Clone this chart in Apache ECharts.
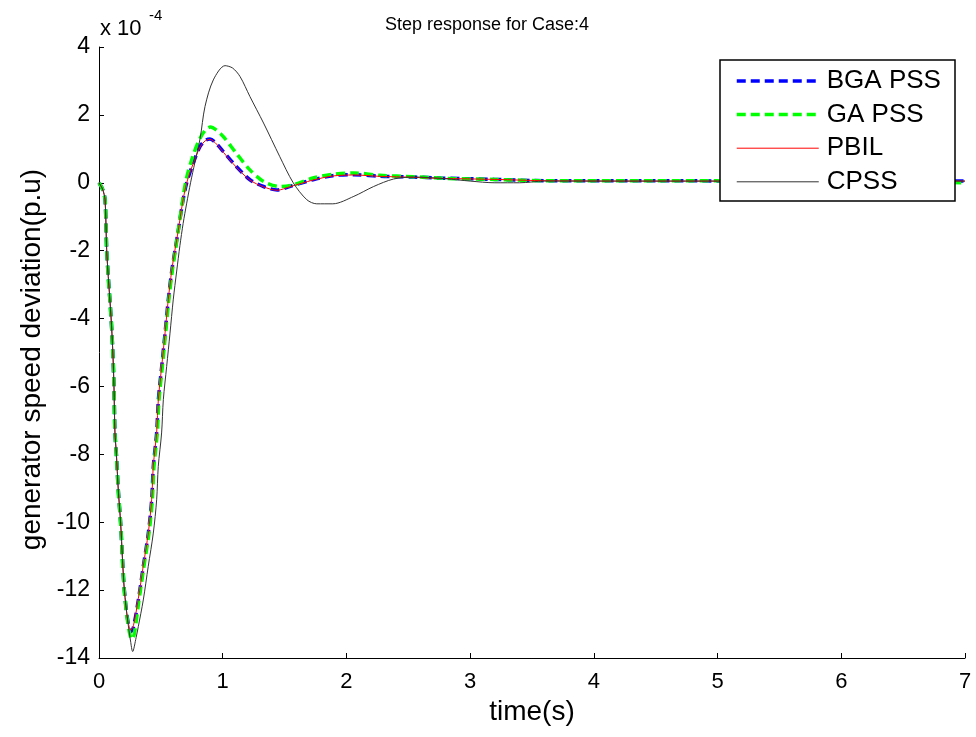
<!DOCTYPE html>
<html>
<head>
<meta charset="utf-8">
<script src="https://cdn.jsdelivr.net/npm/echarts@6/dist/echarts.min.js"></script>
<style>
html,body{margin:0;padding:0;background:#fff;}
#chart{width:976px;height:737px;}
</style>
</head>
<body>
<div id="chart"></div>
<script>
// ---- data (values in units of 1e-4 p.u.) ----
const xTicks = [0, 1, 2, 3, 4, 5, 6, 7];
const yTicks = [-14, -12, -10, -8, -6, -4, -2, 0, 2, 4];

const bgaT = [0, 0.03, 0.049, 0.062, 0.075, 0.097, 0.111, 0.121, 0.129, 0.14, 0.156, 0.175, 0.19, 0.205, 0.232, 0.26, 0.278, 0.318, 0.358, 0.399, 0.426, 0.439, 0.466, 0.48, 0.507, 0.534, 0.56, 0.588, 0.614, 0.641, 0.675, 0.709, 0.762, 0.817, 0.86, 0.897, 0.95, 1.005, 1.11, 1.22, 1.33, 1.44, 1.54, 1.73, 1.89, 2.06, 2.27, 2.54, 2.76, 3.2, 3.62, 4.5, 5.5, 6.5, 7.0];
const bgaY = [0, -0.2, -0.5, -1.97, -2.76, -3.94, -4.92, -6.0, -7.37, -7.96, -9.05, -10.03, -11.1, -12.0, -12.88, -13.22, -13.1, -12.29, -11.3, -10.32, -9.34, -8.36, -7.37, -6.39, -5.41, -4.43, -3.45, -2.6, -2.0, -1.4, -0.6, 0, 0.58, 1.07, 1.25, 1.29, 1.15, 0.92, 0.48, 0.09, -0.11, -0.21, -0.11, 0.09, 0.21, 0.24, 0.19, 0.17, 0.14, 0.1, 0.06, 0.06, 0.05, 0.05, 0.05];

const gaT = [0, 0.03, 0.049, 0.062, 0.075, 0.097, 0.111, 0.121, 0.129, 0.14, 0.156, 0.175, 0.19, 0.205, 0.232, 0.265, 0.285, 0.323, 0.363, 0.404, 0.431, 0.444, 0.471, 0.485, 0.512, 0.538, 0.564, 0.592, 0.617, 0.645, 0.675, 0.705, 0.76, 0.815, 0.86, 0.9, 0.95, 1.005, 1.11, 1.22, 1.33, 1.46, 1.57, 1.73, 1.89, 2.06, 2.27, 2.54, 2.8, 3.2, 3.62, 4.5, 5.5, 6.5, 7.0];
const gaY = [0, -0.2, -0.5, -1.97, -2.8, -3.94, -4.95, -6.0, -7.4, -8.0, -9.1, -10.05, -11.15, -12.05, -12.95, -13.45, -13.3, -12.3, -11.3, -10.32, -9.34, -8.36, -7.37, -6.39, -5.41, -4.43, -3.45, -2.6, -2.0, -1.3, -0.55, 0.1, 0.8, 1.3, 1.55, 1.64, 1.55, 1.36, 0.87, 0.38, 0.04, -0.11, -0.06, 0.14, 0.25, 0.29, 0.22, 0.18, 0.13, 0.1, 0.06, 0.06, 0.05, 0.03, 0.0];

const pbilT = [0, 0.03, 0.049, 0.062, 0.075, 0.097, 0.111, 0.121, 0.129, 0.14, 0.156, 0.175, 0.19, 0.205, 0.232, 0.258, 0.278, 0.318, 0.358, 0.399, 0.426, 0.439, 0.466, 0.48, 0.507, 0.534, 0.56, 0.588, 0.614, 0.641, 0.675, 0.709, 0.762, 0.817, 0.86, 0.897, 0.95, 1.005, 1.11, 1.22, 1.33, 1.44, 1.54, 1.73, 1.89, 2.06, 2.27, 2.54, 2.76, 3.2, 3.62, 4.5, 5.5, 6.5, 7.0];
const pbilY = [0, -0.2, -0.5, -1.97, -2.76, -3.94, -4.92, -6.0, -7.37, -7.96, -9.05, -10.03, -11.1, -12.0, -12.88, -13.18, -13.05, -12.25, -11.28, -10.3, -9.32, -8.34, -7.35, -6.37, -5.4, -4.42, -3.44, -2.58, -1.98, -1.4, -0.6, 0, 0.57, 1.05, 1.24, 1.28, 1.14, 0.9, 0.46, 0.08, -0.12, -0.22, -0.12, 0.08, 0.2, 0.23, 0.19, 0.16, 0.13, 0.1, 0.06, 0.05, 0.05, 0.05, 0.05];

const cpssT = [0, 0.03, 0.049, 0.062, 0.075, 0.097, 0.111, 0.121, 0.129, 0.14, 0.156, 0.175, 0.19, 0.205, 0.232, 0.255, 0.272, 0.3, 0.318, 0.358, 0.398, 0.439, 0.466, 0.479, 0.506, 0.52, 0.547, 0.574, 0.6, 0.628, 0.654, 0.68, 0.709, 0.74, 0.775, 0.817, 0.857, 0.924, 1.019, 1.08, 1.14, 1.22, 1.33, 1.46, 1.57, 1.68, 1.76, 1.89, 2.06, 2.22, 2.38, 2.54, 2.8, 3.0, 3.2, 3.4, 3.6, 4.5, 5.5, 6.5, 7.0];
const cpssY = [0, -0.2, -0.5, -1.97, -2.76, -3.94, -4.92, -6.0, -7.37, -7.96, -9.05, -10.03, -11.1, -12.0, -12.9, -13.5, -13.81, -13.4, -13.07, -12.29, -11.3, -10.32, -9.34, -8.36, -7.37, -6.39, -5.41, -4.43, -3.45, -2.6, -1.85, -1.2, -0.6, 0.0, 0.6, 1.3, 2.25, 3.03, 3.45, 3.38, 3.13, 2.54, 1.76, 0.78, 0, -0.5, -0.62, -0.62, -0.4, -0.11, 0.11, 0.17, 0.12, 0.05, 0.0, 0.0, 0.05, 0.05, 0.05, 0.05, 0.05];

const seriesNames = ['BGA PSS', 'GA PSS', 'PBIL', 'CPSS'];
const seriesColors = ['#0000ff', '#00ff00', '#ff0000', '#333333'];

function zip(t, y) { return t.map((v, i) => [v, y[i]]); }

const font = '"Liberation Sans", Arial, sans-serif';
const chart = echarts.init(document.getElementById('chart'), null, {renderer: 'canvas'});

const dashed = [9, 5];
const lineStyles = [
  {color: seriesColors[0], width: 3.5, type: dashed},
  {color: seriesColors[1], width: 3.5, type: dashed},
  {color: seriesColors[2], width: 1, type: 'solid'},
  {color: seriesColors[3], width: 1, type: 'solid'}
];
const allT = [bgaT, gaT, pbilT, cpssT];
const allY = [bgaY, gaY, pbilY, cpssY];

const option = {
  backgroundColor: '#ffffff',
  animation: false,
  title: {
    text: 'Step response for Case:4',
    left: 380, top: 11,
    textStyle: {fontFamily: font, fontSize: 18, fontWeight: 'normal', color: '#000'}
  },
  grid: {left: 99, right: 11, top: 47, bottom: 79, containLabel: false},
  xAxis: {
    type: 'value', min: 0, max: 7, interval: 1,
    name: 'time(s)', nameLocation: 'middle', nameGap: 39,
    nameTextStyle: {fontFamily: font, fontSize: 28, color: '#000'},
    axisLine: {onZero: false, lineStyle: {color: '#000', width: 1}},
    axisTick: {inside: true, length: 5, lineStyle: {color: '#000'}},
    axisLabel: {fontFamily: font, fontSize: 22, color: '#000', margin: 13,
      formatter: v => xTicks.includes(v) ? String(v) : ''},
    splitLine: {show: false}
  },
  yAxis: {
    type: 'value', min: -14, max: 4, interval: 2,
    name: 'generator speed deviation(p.u)', nameLocation: 'middle', nameGap: 53,
    nameTextStyle: {fontFamily: font, fontSize: 28, color: '#000', padding: [0, 14, 0, 0]},
    axisLine: {onZero: false, lineStyle: {color: '#000', width: 1}},
    axisTick: {inside: true, length: 5, lineStyle: {color: '#000'}},
    axisLabel: {fontFamily: font, fontSize: 23, color: '#000', margin: 9,
      formatter: v => yTicks.includes(v) ? String(v) : ''},
    splitLine: {show: false}
  },
  legend: {
    orient: 'vertical', left: 735, top: 68,
    itemWidth: 82, itemHeight: 22, itemGap: 7.6,
    padding: 0,
    data: seriesNames.map((n, i) => ({name: n, lineStyle: lineStyles[i]})),
    itemStyle: {opacity: 0},
    textStyle: {fontFamily: font, fontSize: 26, lineHeight: 22, color: '#000', padding: [0, 0, 0, 3]},
    z: 10
  },
  graphic: [
    {type: 'rect', z: 5, shape: {x: 720, y: 60, width: 235, height: 141},
      style: {fill: '#fff', stroke: '#000', lineWidth: 1.5}},
    {type: 'text', z: 5, x: 100, y: 18,
      style: {text: 'x 10', fontFamily: font, fontSize: 22, fill: '#000'}},
    {type: 'text', z: 5, x: 149, y: 8,
      style: {text: '-4', fontFamily: font, fontSize: 15, fill: '#000'}}
  ],
  series: seriesNames.map((n, i) => ({
    name: n, type: 'line', data: zip(allT[i], allY[i]), symbol: 'none', smooth: 0.3,
    lineStyle: lineStyles[i], itemStyle: {color: seriesColors[i]}, z: 2
  }))
};
chart.setOption(option);
</script>
</body>
</html>
